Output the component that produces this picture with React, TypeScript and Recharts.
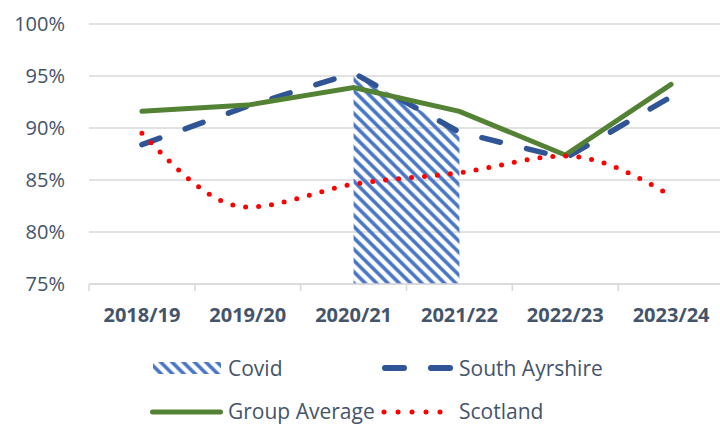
import { ComposedChart, Area, Line, XAxis, YAxis, CartesianGrid, Legend } from 'recharts';

const categories = ['2018/19', '2019/20', '2020/21', '2021/22', '2022/23', '2023/24'];
const southAyrshire = [88.4, 92.1, 95.3, 89.6, 87.1, 93.0];
const groupAverage = [91.6, 92.2, 93.9, 91.6, 87.4, 94.2];
const scotland = [89.5, 82.4, 84.6, 85.7, 87.3, 83.5];
const covid = [null, null, 95.3, 89.6, null, null];
const yTicks = [75, 80, 85, 90, 95, 100];

const data = categories.map((name, i) => ({
  name,
  covid: covid[i],
  southAyrshire: southAyrshire[i],
  groupAverage: groupAverage[i],
  scotland: scotland[i],
}));

const TEXT = '#44546A';
const FONT = '"Open Sans", sans-serif';

// x tick: bold label plus small tick marks on the category boundaries
const XTick = (props: any) => {
  const { x, y, payload, index } = props;
  const half = payload?.offset || 52.9;
  const axisY = y - 2;
  return (
    <g>
      <line x1={x - half} x2={x - half} y1={axisY} y2={axisY + 7} stroke="#D9D9D9" strokeWidth={1.5} />
      {index === categories.length - 1 && (
        <line x1={x + half} x2={x + half} y1={axisY} y2={axisY + 7} stroke="#D9D9D9" strokeWidth={1.5} />
      )}
      <text x={x} y={y + 36} textAnchor="middle" fill={TEXT} fontFamily={FONT} fontSize={20} fontWeight="bold">
        {payload.value}
      </text>
    </g>
  );
};

const renderLegend = () => (
  <svg width={720} height={84} style={{ display: 'block' }}>
    <defs>
      <pattern id="hatchLegend" patternUnits="userSpaceOnUse" width={8} height={8} patternTransform="rotate(-45)">
        <line x1={2} y1={0} x2={2} y2={8} stroke="#4472C4" strokeWidth={3.5} />
      </pattern>
    </defs>
    <g fontFamily={FONT} fontSize={21} fill={TEXT}>
      <rect x={153} y={22} width={68} height={12} fill="url(#hatchLegend)" />
      <text x={228} y={28} dominantBaseline="central">Covid</text>
      <line x1={385} x2={450} y1={28} y2={28} stroke="#2F5597" strokeWidth={6} strokeDasharray="19 27" strokeLinecap="round" />
      <text x={459} y={28} dominantBaseline="central">South Ayrshire</text>
      <line x1={152.5} x2={220.5} y1={72} y2={72} stroke="#548235" strokeWidth={5} strokeLinecap="round" />
      <text x={228} y={71} dominantBaseline="central">Group Average</text>
      <line x1={384} x2={441} y1={72} y2={72} stroke="#FF0000" strokeWidth={5} strokeDasharray="0 14" strokeLinecap="round" />
      <text x={459} y={71} dominantBaseline="central">Scotland</text>
    </g>
  </svg>
);

export default function App() {
  return (
    <div style={{ position: 'absolute', left: 0, top: 0, width: 720, height: 424, overflow: 'hidden', background: '#fff' }}>
      <ComposedChart width={724} height={424} data={data} margin={{ top: 24, right: 0, left: 0, bottom: 100 }}>
        <defs>
          <pattern id="hatch" patternUnits="userSpaceOnUse" width={8} height={8} patternTransform="rotate(-45)">
            <line x1={2} y1={0} x2={2} y2={8} stroke="#4472C4" strokeWidth={3.5} />
          </pattern>
        </defs>
        <CartesianGrid vertical={false} stroke="#D9D9D9" strokeWidth={1.5} />
        <XAxis
          dataKey="name"
          scale="band"
          height={40}
          tickLine={false}
          tickSize={0}
          tickMargin={2}
          axisLine={{ stroke: '#D9D9D9', strokeWidth: 1.5 }}
          tick={<XTick />}
          interval={0}
        />
        <YAxis
          width={89}
          domain={[75, 100]}
          ticks={yTicks}
          tickFormatter={(v: number) => `${v}%`}
          axisLine={false}
          tickLine={false}
          tickSize={0}
          tickMargin={24}
          tick={{ fill: TEXT, fontFamily: FONT, fontSize: 20 }}
        />
        <Legend
          layout="horizontal"
          verticalAlign="middle"
          align="center"
          content={renderLegend}
          wrapperStyle={{ left: 0, top: 340, width: 720, height: 84 }}
        />
        <Area dataKey="covid" type="linear" fill="url(#hatch)" fillOpacity={1} stroke="none" isAnimationActive={false} />
        <Line dataKey="southAyrshire" type="linear" stroke="#2F5597" strokeWidth={5.5} strokeDasharray="19 27" strokeLinecap="round" dot={false} activeDot={false} isAnimationActive={false} />
        <Line dataKey="groupAverage" type="linear" stroke="#548235" strokeWidth={5} strokeLinecap="round" dot={false} activeDot={false} isAnimationActive={false} />
        <Line dataKey="scotland" type="monotone" stroke="#FF0000" strokeWidth={5} strokeDasharray="0 13" strokeLinecap="round" dot={false} activeDot={false} isAnimationActive={false} />
      </ComposedChart>
    </div>
  );
}
